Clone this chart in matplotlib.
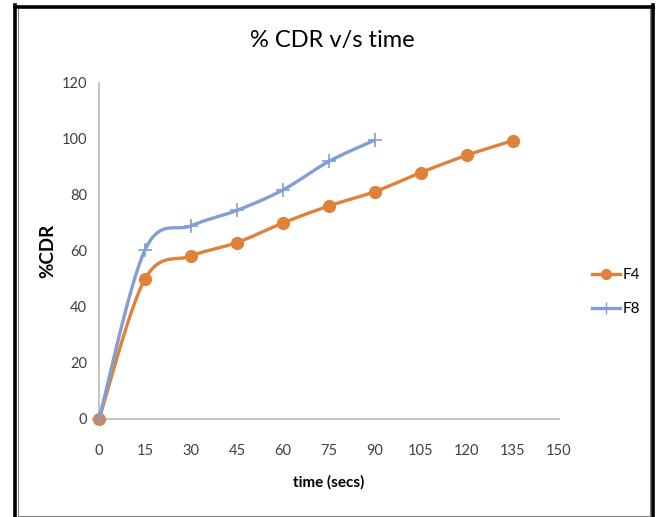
import matplotlib
matplotlib.use("Agg")
import matplotlib.pyplot as plt
from matplotlib.lines import Line2D
import numpy as np

time_f4 = [0, 15, 30, 45, 60, 75, 90, 105, 120, 135]
cdr_f4 = [0, 50, 58.2, 63, 70, 76.1, 81.2, 88, 94.2, 99.4]
time_f8 = [0, 15, 30, 45, 60, 75, 90]
cdr_f8 = [0, 60.4, 69, 74.5, 81.8, 92, 99.6]
xticks = [0, 15, 30, 45, 60, 75, 90, 105, 120, 135, 150]
yticks = [0, 20, 40, 60, 80, 100, 120]

orange = '#DF8139'
blue = '#819FD3'

plt.rcParams['font.family'] = ['Lato', 'DejaVu Sans']


def smooth(x, y, n=30):
    # Catmull-Rom style curve through the points, like Excel's smoothed line
    x = np.asarray(x, float)
    y = np.asarray(y, float)
    px = np.concatenate([[x[0]], x, [x[-1]]])
    py = np.concatenate([[y[0]], y, [y[-1]]])
    xs, ys = [], []
    t = np.linspace(0, 1, n)
    for i in range(1, len(px) - 2):
        p0, p1, p2, p3 = (np.array([px[j], py[j]]) for j in range(i - 1, i + 3))
        c1 = p1 + (p2 - p0) / 6
        c2 = p2 - (p3 - p1) / 6
        b = ((1 - t) ** 3)[:, None] * p1 + (3 * (1 - t) ** 2 * t)[:, None] * c1 \
            + (3 * (1 - t) * t ** 2)[:, None] * c2 + (t ** 3)[:, None] * p2
        xs.extend(b[:, 0])
        ys.extend(b[:, 1])
    return xs, ys


fig = plt.figure(figsize=(6.56, 5.17), dpi=100)
ax = fig.add_axes([0.151, 0.1896, 0.701, 0.65])

sx, sy = smooth(time_f4, cdr_f4)
ax.plot(sx, sy, color=orange, lw=2.4, solid_capstyle='round', zorder=3)
ax.plot(time_f4, cdr_f4, 'o', color=orange, ms=8.5, zorder=4)
sx, sy = smooth(time_f8, cdr_f8)
ax.plot(sx, sy, color=blue, lw=2.4, solid_capstyle='round', zorder=5)
ax.plot(time_f8, cdr_f8, '+', color=blue, ms=10, mew=1.2, zorder=6)

ax.set_xlim(0, 150)
ax.set_ylim(0, 120)
ax.set_xticks(xticks)
ax.set_yticks(yticks)
ax.tick_params(length=0, labelsize=10.5, colors='#404040')
ax.tick_params(axis='x', pad=18)
ax.tick_params(axis='y', pad=8.5)
for s in ['top', 'right']:
    ax.spines[s].set_visible(False)
for s in ['left', 'bottom']:
    ax.spines[s].set_color('#BFBFBF')
    ax.spines[s].set_linewidth(1.3)
for ln in ax.lines:
    ln.set_clip_on(False)

ax.set_xlabel('time (secs)', fontsize=11, fontweight='bold')
ax.set_ylabel('%CDR', fontsize=13.5, fontweight='bold')
ax.xaxis.set_label_coords(0.5, -0.168)
ax.yaxis.set_label_coords(-0.094, 0.5)
fig.text(0.506, 0.921, '% CDR v/s time', fontsize=17, ha='center', va='center')

handles = [Line2D([], [], color=orange, lw=2.4, marker='o', ms=7),
           Line2D([], [], color=blue, lw=2.4, marker='+', ms=9)]
fig.legend(handles, ['F4', 'F8'], loc='center left', bbox_to_anchor=(0.882, 0.435),
           frameon=False, fontsize=11, handlelength=1.8, handletextpad=0.2,
           labelspacing=1.3)

# outer frame
W, H = 656, 517
def fl(x0, y0, x1, y1, c, lw):
    fig.add_artist(Line2D([x0 / W, x1 / W], [1 - y0 / H, 1 - y1 / H],
                          transform=fig.transFigure, color=c, lw=lw))
fl(14.5, 6.5, 652.5, 6.5, 'black', 2.6)
fl(14.5, 5, 14.5, 517, 'black', 2.6)
fl(652.5, 5, 652.5, 517, 'black', 2.6)
fl(17.5, 9, 17.5, 515.5, '#808080', 0.8)
fl(649.5, 9, 649.5, 515.5, '#808080', 0.8)
fl(17.5, 515.5, 649.5, 515.5, '#808080', 0.8)

fig.savefig('out.png', dpi=100)
